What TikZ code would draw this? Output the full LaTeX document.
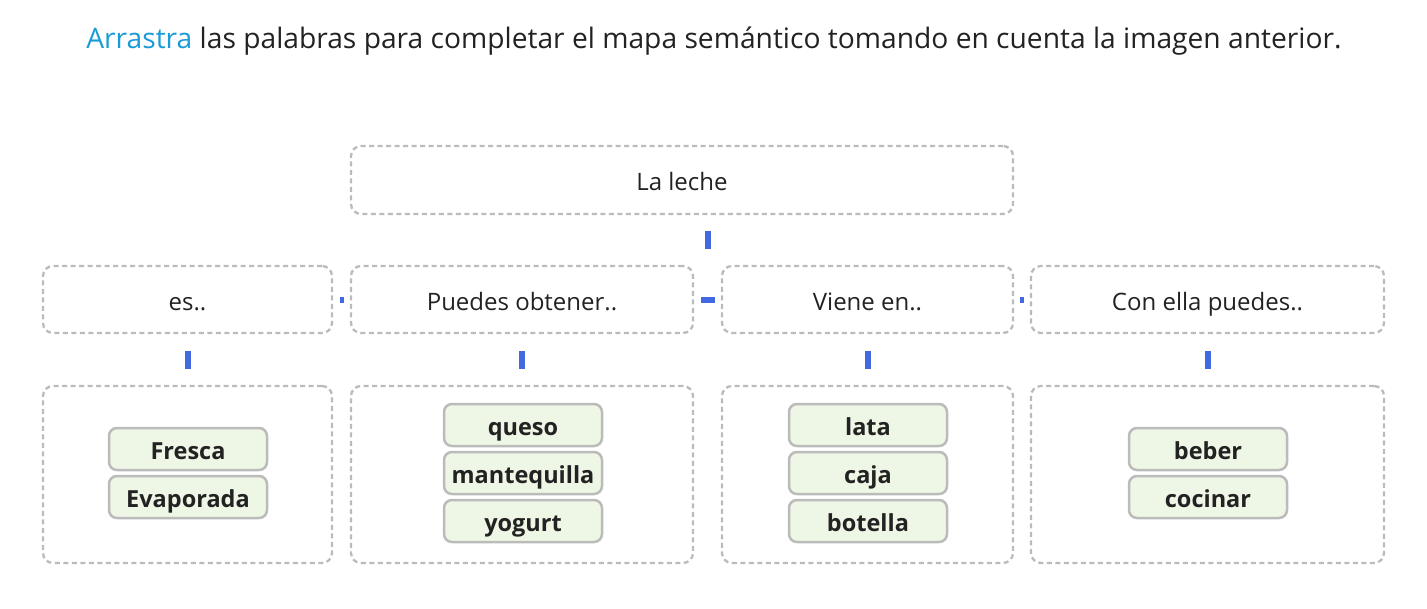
\documentclass[tikz,border=0pt]{standalone}
\usepackage{fontspec}
\setmainfont{Open Sans}
\usetikzlibrary{calc}
\definecolor{boxgray}{HTML}{BBBBBB}
\definecolor{chipfill}{HTML}{EEF6E6}
\definecolor{connblue}{HTML}{4169E1}
\definecolor{linkblue}{HTML}{1A9BD7}
\definecolor{txt}{HTML}{222222}
\begin{document}
\begin{tikzpicture}[x=1pt,y=-1pt,
  dbox/.style={draw=boxgray, line width=2.3pt, dash pattern=on 5pt off 3.5pt, rounded corners=10pt, inner sep=0pt, text=txt, font=\fontsize{24}{28}\selectfont, text height=21pt, text depth=0pt},
  chip/.style={draw=boxgray, line width=2.5pt, fill=chipfill, rounded corners=8pt, minimum width=158pt, minimum height=42pt, inner sep=0pt, text=txt, font=\fontsize{23.5}{27}\selectfont\bfseries, text height=21pt, text depth=0pt},
  bar/.style={draw=connblue, line width=6pt, line cap=butt}]
\useasboundingbox (0,0) rectangle (1427,608);
\node[text=txt, font=\fontsize{28.2}{34}\selectfont] (title) at (714,41) {\textcolor{linkblue}{Arrastra} las palabras para completar el mapa semántico tomando en cuenta la imagen anterior.};
% boxes
\node[dbox, minimum width=662pt, minimum height=68pt] (leche) at (682,180) {La leche};
\node[dbox, minimum width=289pt, minimum height=67pt] (es) at (187.5,299.5) {es..};
\node[dbox, minimum width=342pt, minimum height=67pt] (puedes) at (522,299.5) {Puedes obtener..};
\node[dbox, minimum width=291pt, minimum height=67pt] (viene) at (867.5,299.5) {Viene en..};
\node[dbox, minimum width=353pt, minimum height=67pt] (con) at (1207.5,299.5) {Con ella puedes..};
\node[dbox, minimum width=289pt, minimum height=177pt] (es2) at (187.5,474.5) {};
\node[dbox, minimum width=342pt, minimum height=177pt] (puedes2) at (522,474.5) {};
\node[dbox, minimum width=291pt, minimum height=177pt] (viene2) at (867.5,474.5) {};
\node[dbox, minimum width=353pt, minimum height=177pt] (con2) at (1207.5,474.5) {};
% chips
\node[chip] (fresca) at (188,449) {Fresca};
\node[chip] (evap) at (188,497) {Evaporada};
\node[chip] (queso) at (523,425) {queso};
\node[chip] (mant) at (523,473) {mantequilla};
\node[chip] (yog) at (523,521) {yogurt};
\node[chip] (lata) at (868,425) {lata};
\node[chip] (caja) at (868,473) {caja};
\node[chip] (bot) at (868,521) {botella};
\node[chip] (beber) at (1208,449) {beber};
\node[chip] (cocinar) at (1208,497) {cocinar};
% connectors
\coordinate (gap) at ($(puedes.east)!0.5!(viene.west)$);
\draw[bar, shorten <=16pt, shorten >=16pt] (leche.south -| gap) -- (puedes.north -| gap);
\draw[bar, shorten <=7pt, shorten >=6pt] (es.east) -- (puedes.west);
\draw[bar, shorten <=7pt, shorten >=6pt] (puedes.east) -- (viene.west);
\draw[bar, shorten <=6pt, shorten >=6pt] (viene.east) -- (con.west);
\draw[bar, shorten <=17pt, shorten >=16pt] (es.south) -- (es2.north);
\draw[bar, shorten <=17pt, shorten >=16pt] (puedes.south) -- (puedes2.north);
\draw[bar, shorten <=17pt, shorten >=16pt] (viene.south) -- (viene2.north);
\draw[bar, shorten <=17pt, shorten >=16pt] (con.south) -- (con2.north);
\end{tikzpicture}
\end{document}
